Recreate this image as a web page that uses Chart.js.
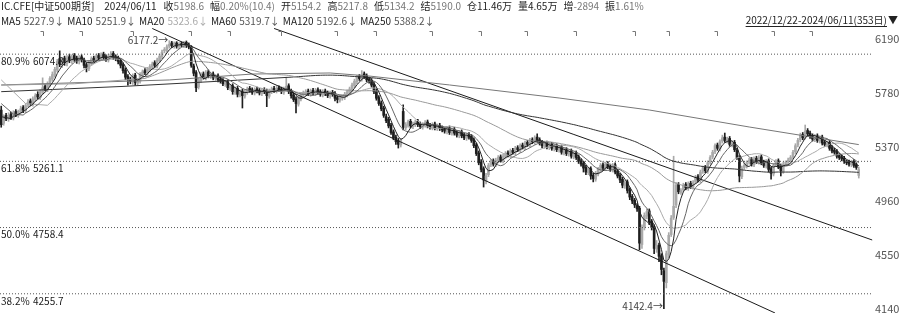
<!DOCTYPE html>
<html>
<head>
<meta charset="utf-8">
<script src="https://cdn.jsdelivr.net/npm/chart.js@4.4.1/dist/chart.umd.min.js"></script>
<style>
  html, body { margin: 0; padding: 0; background: #fff; }
  #wrap { width: 900px; height: 313px; }
</style>
</head>
<body>
<div id="wrap"><canvas id="kline" width="900" height="313"></canvas></div>
<script>
/* globals Chart:false */

// daily candles, 2022/12/22 - 2024/06/11 (353 days)
var opens = [
  5650,5550,5610,5580,5620,5590,5640,5610,5635,5670, 5645,5690,5720,5695,5730,5770,5745,5785,5830,5805,
  5845,5885,5915,5955,6040,5995,6045,6005,6055,6025, 6065,6045,6020,6055,6030,5995,5965,6005,6045,6025,
  6065,6040,6075,6055,6030,6055,6080,6055,6045,6025, 5995,5955,5905,5885,5865,5915,5855,5870,5915,5950,
  5930,5955,5975,6010,5985,6025,6055,6100,6105,6135, 6160,6135,6160,6130,6155,6140,6165,6145,6130,5985,
  5935,5825,5875,5925,5895,5940,5905,5925,5890,5910, 5885,5875,5845,5865,5815,5835,5785,5815,5765,5795,
  5755,5785,5815,5805,5780,5810,5800,5775,5805,5795, 5755,5790,5815,5795,5820,5810,5785,5805,5835,5795,
  5765,5735,5695,5735,5765,5775,5795,5770,5800,5775, 5805,5790,5765,5795,5780,5755,5785,5775,5745,5725,
  5740,5745,5765,5785,5805,5835,5865,5905,5885,5925, 5910,5885,5875,5845,5795,5745,5705,5665,5600,5580,
  5535,5485,5445,5420,5385,5640,5515,5535,5565,5525, 5540,5565,5545,5520,5535,5560,5535,5515,5545,5510,
  5535,5515,5505,5485,5515,5475,5505,5480,5455,5485, 5460,5435,5465,5450,5425,5385,5325,5260,5205,5110,
  5160,5235,5265,5235,5265,5295,5265,5295,5325,5305, 5345,5325,5365,5345,5385,5365,5405,5385,5425,5405,
  5445,5425,5405,5375,5400,5365,5390,5355,5380,5345, 5370,5325,5350,5315,5340,5295,5325,5295,5265,5245,
  5215,5175,5205,5155,5125,5165,5195,5235,5205,5245, 5225,5195,5235,5185,5155,5125,5075,5105,5045,4995,
  4965,4925,4905,4630,4765,4845,4885,4805,4765,4595, 4625,4545,4430,4340,4555,4705,4835,4930,5085,5025,
  5045,5085,5055,5095,5065,5105,5145,5115,5185,5215, 5185,5255,5295,5335,5385,5355,5415,5445,5415,5435,
  5385,5405,5345,5290,5145,5215,5225,5255,5275,5235, 5285,5255,5295,5255,5225,5265,5205,5165,5235,5265,
  5225,5185,5245,5255,5275,5295,5335,5385,5425,5465, 5445,5495,5475,5455,5425,5455,5415,5445,5405,5385,
  5405,5365,5345,5335,5305,5295,5285,5255,5255,5235, 5260,5235,5154.2
];
var highs = [
  5680,5615,5625,5630,5635,5645,5655,5650,5680,5685, 5700,5730,5735,5750,5775,5790,5805,5895,5845,5865,
  5905,5940,5975,6035,6100,6050,6060,6065,6075,6070, 6080,6060,6065,6070,6045,6010,6025,6055,6060,6075,
  6080,6085,6090,6070,6075,6095,6095,6070,6060,6040, 6010,5970,5920,5900,5925,5930,5890,5935,5955,5965,
  5975,5995,6015,6025,6045,6075,6105,6125,6145,6177.2, 6172,6168,6170,6163,6168,6172,6175,6160,6140,6000,
  5950,5895,5935,5940,5950,5955,5935,5940,5920,5925, 5900,5890,5875,5880,5845,5850,5825,5830,5805,5810,
  5805,5825,5830,5820,5820,5825,5815,5815,5820,5810, 5810,5825,5830,5830,5835,5825,5825,5900,5850,5810,
  5780,5750,5755,5785,5795,5805,5810,5810,5815,5815, 5820,5805,5805,5810,5795,5795,5800,5790,5760,5765,
  5765,5785,5805,5825,5855,5885,5915,5920,5950,5940, 5925,5900,5890,5860,5810,5760,5720,5680,5620,5595,
  5550,5500,5460,5435,5435,5690,5555,5575,5580,5560, 5575,5580,5560,5555,5570,5575,5550,5555,5560,5545,
  5550,5530,5520,5525,5530,5515,5520,5495,5495,5500, 5475,5475,5480,5465,5440,5400,5340,5275,5220,5170,
  5245,5275,5280,5285,5305,5310,5315,5335,5340,5355, 5360,5375,5380,5395,5400,5415,5420,5435,5440,5455,
  5470,5440,5420,5410,5415,5400,5405,5390,5395,5380, 5385,5360,5365,5350,5355,5335,5340,5310,5280,5260,
  5230,5215,5220,5170,5185,5215,5245,5250,5255,5260, 5240,5245,5250,5200,5170,5140,5115,5120,5060,5010,
  4980,4940,4920,4780,4870,4900,4900,4820,4780,4660, 4640,4560,4450,4580,4720,4850,5300,5100,5100,5055,
  5095,5100,5105,5110,5115,5155,5160,5195,5225,5230, 5265,5305,5345,5395,5400,5425,5460,5476,5445,5450,
  5415,5420,5360,5305,5225,5245,5265,5285,5290,5295, 5300,5305,5310,5270,5275,5280,5220,5245,5275,5280,
  5240,5255,5265,5285,5305,5345,5395,5435,5475,5480, 5537,5510,5490,5470,5465,5470,5455,5460,5420,5415,
  5420,5380,5360,5350,5320,5310,5300,5270,5270,5270, 5275,5250,5217.8
];
var lows = [
  5520,5535,5570,5565,5580,5575,5600,5595,5625,5630, 5630,5675,5685,5680,5715,5735,5730,5770,5795,5790,
  5830,5870,5900,5940,5980,5975,5990,5985,6010,6005, 6020,6005,6000,6015,5970,5940,5950,5990,6015,6010,
  6030,6025,6035,6020,6015,6040,6035,6025,6000,5970, 5930,5880,5840,5850,5845,5840,5840,5855,5900,5920,
  5915,5940,5960,5975,5970,6010,6040,6085,6090,6120, 6125,6120,6120,6115,6130,6125,6125,6115,5975,5910,
  5790,5810,5860,5885,5880,5895,5890,5880,5875,5865, 5855,5835,5830,5805,5800,5770,5770,5750,5750,5666,
  5740,5770,5785,5770,5765,5780,5765,5760,5775,5676, 5740,5775,5785,5780,5790,5775,5770,5790,5775,5740,
  5715,5628,5680,5720,5750,5760,5760,5755,5765,5760, 5770,5755,5750,5760,5745,5740,5755,5720,5705,5710,
  5725,5730,5750,5770,5790,5820,5850,5875,5870,5890, 5865,5855,5825,5775,5725,5685,5645,5595,5555,5515,
  5465,5425,5390,5362,5370,5500,5500,5520,5515,5510, 5525,5525,5510,5505,5520,5515,5505,5500,5500,5495,
  5495,5485,5475,5470,5465,5460,5460,5445,5440,5440, 5425,5420,5430,5405,5365,5305,5235,5180,5066,5090,
  5145,5220,5225,5220,5250,5255,5250,5280,5295,5290, 5315,5310,5335,5330,5355,5350,5375,5370,5395,5390,
  5405,5385,5365,5360,5355,5350,5345,5340,5335,5330, 5315,5310,5305,5300,5285,5280,5275,5245,5225,5180,
  5160,5160,5125,5105,5110,5150,5180,5195,5190,5205, 5185,5180,5165,5135,5100,5060,5055,5020,4970,4940,
  4910,4880,4590,4600,4740,4825,4780,4740,4560,4570, 4500,4400,4142.4,4300,4530,4690,4820,4910,5015,5010,
  5030,5045,5040,5055,5050,5090,5105,5100,5170,5175, 5170,5240,5280,5320,5345,5340,5400,5405,5400,5375,
  5370,5335,5275,5105,5130,5200,5210,5240,5225,5220, 5245,5240,5235,5215,5210,5180,5125,5150,5220,5205,
  5150,5170,5230,5240,5260,5280,5320,5370,5410,5425, 5430,5455,5435,5415,5410,5405,5400,5385,5375,5370,
  5345,5325,5315,5285,5275,5265,5245,5235,5225,5220, 5215,5200,5134.2
];
var closes = [
  5540,5600,5585,5610,5595,5630,5615,5640,5660,5650, 5685,5710,5700,5735,5760,5750,5790,5820,5810,5850,
  5890,5920,5960,6020,6000,6035,6010,6045,6030,6055, 6040,6025,6050,6035,5990,5970,6010,6040,6030,6060,
  6045,6070,6050,6035,6060,6075,6050,6040,6020,5990, 5950,5900,5880,5870,5910,5860,5875,5920,5940,5935,
  5960,5980,6000,5990,6030,6060,6090,6110,6130,6150, 6140,6155,6135,6150,6145,6160,6140,6130,5990,5930,
  5820,5880,5920,5900,5935,5910,5920,5895,5905,5880, 5870,5850,5860,5820,5830,5790,5810,5770,5790,5760,
  5790,5810,5800,5785,5805,5795,5780,5800,5790,5760, 5795,5810,5800,5815,5805,5790,5810,5830,5790,5760,
  5730,5700,5740,5770,5780,5790,5775,5795,5780,5800, 5785,5770,5790,5775,5760,5780,5770,5740,5730,5750,
  5750,5770,5790,5810,5840,5870,5900,5890,5920,5905, 5880,5870,5840,5790,5740,5700,5660,5610,5570,5530,
  5480,5440,5410,5390,5420,5520,5540,5560,5530,5545, 5560,5540,5525,5540,5555,5530,5520,5540,5515,5530,
  5510,5500,5490,5510,5480,5500,5475,5460,5480,5455, 5440,5460,5445,5420,5380,5320,5250,5200,5120,5150,
  5230,5260,5240,5270,5290,5270,5300,5320,5310,5340, 5330,5360,5350,5380,5370,5400,5390,5420,5410,5440,
  5420,5400,5380,5395,5370,5385,5360,5375,5350,5365, 5330,5345,5320,5335,5300,5320,5290,5260,5240,5210,
  5180,5200,5150,5130,5170,5200,5230,5210,5240,5220, 5200,5230,5180,5150,5120,5080,5100,5040,4990,4960,
  4930,4900,4640,4760,4850,4880,4800,4760,4600,4620, 4540,4440,4350,4560,4700,4830,4920,5080,5030,5040,
  5080,5060,5090,5070,5100,5140,5120,5180,5210,5190, 5250,5290,5330,5380,5360,5410,5440,5420,5430,5390,
  5400,5350,5290,5150,5210,5230,5250,5270,5240,5280, 5260,5290,5250,5230,5260,5200,5170,5230,5260,5220,
  5190,5240,5250,5270,5290,5330,5380,5420,5460,5440, 5490,5470,5450,5430,5450,5420,5440,5400,5390,5400,
  5360,5340,5330,5300,5290,5280,5260,5250,5240,5255, 5230,5215,5198.6
];

// moving averages: values before a full window come from the picture
var maNames = ['MA5', 'MA10', 'MA20', 'MA60', 'MA120', 'MA250'];
var maLast = ['5227.9', '5251.9', '5323.6', '5319.7', '5192.6', '5388.2'];
var ma5Lead = [[0, 5600]];
var ma10Lead = [[0, 5700], [5, 5620]];
var ma20Lead = [[0, 5880], [10, 5700]];
var ma60Lead = [[0, 5840], [30, 5850]];
var ma120Lead = [[0, 5790], [50, 5830], [90, 5870]];
var ma250Read = [[0, 5841], [69, 5879], [103, 5924], [135, 5932], [151, 5909], [184, 5841],
  [229, 5742], [266, 5651], [307, 5522], [352, 5388.2]];

// drawn channel lines [day index, price]
var trendA = [[62, 6270], [317.6, 4110]];
var trendB = [[112, 6270], [357.5, 4664]];

// golden section levels
var fibPcts = ['80.9%', '61.8%', '50.0%', '38.2%'];
var fibValues = [6074.8, 5261.1, 4758.4, 4255.7];
var fibSpan = [-0.5, 357.5];

var axisTicks = [4140, 4550, 4960, 5370, 5780, 6190];
var rollIdx = [17, 33, 54, 78, 94, 115, 138, 154, 177, 197, 216, 236, 260, 274, 294, 317, 333];

var headTitle = 'IC.CFE[中证500期货]';
var headDate = '2024/06/11';
var headLabels = ['收', '幅', '开', '高', '低', '结', '仓', '量', '增', '振'];
var headValues = ['5198.6', '0.20%(10.4)', '5154.2', '5217.8', '5134.2', '5190.0', '11.46万', '4.65万', '-2894', '1.61%'];
var rangeText = '2022/12/22-2024/06/11(353日)';

(function () {
  'use strict'

  var font = '"Noto Sans CJK SC", "Noto Sans", sans-serif'
  var upColor = '#a9a9a9'
  var downColor = '#1e1e1e'
  var maColors = ['#222222', '#666666', '#aaaaaa', '#999999', '#333333', '#777777']

  function movingAvg (n, lead) {
    var pts = lead.map(function (p) { return { x: p[0], y: p[1] } })
    for (var i = n - 1; i < closes.length; i++) {
      var s = 0
      for (var k = i - n + 1; k <= i; k++) s += closes[k]
      pts.push({ x: i, y: s / n })
    }
    return pts
  }

  var bodies = closes.map(function (c, i) { return { x: i, y: [opens[i], c] } })
  var wicks = closes.map(function (c, i) { return { x: i, y: [lows[i], highs[i]] } })
  var candleColors = closes.map(function (c, i) { return c >= opens[i] ? upColor : downColor })

  var maSeries = [
    movingAvg(5, ma5Lead), movingAvg(10, ma10Lead), movingAvg(20, ma20Lead),
    movingAvg(60, ma60Lead), movingAvg(120, ma120Lead),
    ma250Read.map(function (p) { return { x: p[0], y: p[1] } })
  ]

  var datasets = []
  maSeries.forEach(function (pts, k) {
    datasets.push({
      type: 'line', label: maNames[k], data: pts, borderColor: maColors[k],
      borderWidth: 1, pointRadius: 0, tension: 0, order: 1
    })
  })
  ;[trendA, trendB].forEach(function (t) {
    datasets.push({
      type: 'line', data: t.map(function (p) { return { x: p[0], y: p[1] } }),
      borderColor: '#1a1a1a', borderWidth: 1, pointRadius: 0, clip: false, order: 2
    })
  })
  fibValues.forEach(function (v) {
    datasets.push({
      type: 'line', data: [{ x: fibSpan[0], y: v }, { x: fibSpan[1], y: v }],
      borderColor: '#555', borderWidth: 1, borderDash: [1, 2], pointRadius: 0, clip: false, order: 3
    })
  })
  datasets.push({
    type: 'bar', data: bodies, backgroundColor: candleColors, barThickness: 2,
    minBarLength: 1, grouped: false, order: 4
  })
  datasets.push({
    type: 'bar', data: wicks, backgroundColor: candleColors, barThickness: 1,
    grouped: false, order: 5
  })

  var overlay = {
    id: 'overlay',
    afterDatasetsDraw: function (chart) {
      var ctx = chart.ctx
      var xs = chart.scales.x
      var ys = chart.scales.y
      ctx.save()
      // level labels
      ctx.font = '10px ' + font
      ctx.fillStyle = '#1a1a1a'
      ctx.textBaseline = 'top'
      fibValues.forEach(function (v, k) {
        var py = ys.getPixelForValue(v)
        ctx.fillText(fibPcts[k], 1, py + 2)
        ctx.fillText(v.toFixed(1), 33, py + 2)
      })
      // extreme prices
      var hi = 0
      var lo = 0
      highs.forEach(function (h, i) { if (h > highs[hi]) hi = i })
      lows.forEach(function (l, i) { if (l < lows[lo]) lo = i })
      ctx.fillStyle = '#444'
      ctx.textAlign = 'right'
      ctx.textBaseline = 'middle'
      ctx.fillText(highs[hi].toFixed(1) + '→', xs.getPixelForValue(hi) - 1, ys.getPixelForValue(highs[hi]))
      ctx.fillText(lows[lo].toFixed(1) + '→', xs.getPixelForValue(lo) - 1, ys.getPixelForValue(lows[lo]) - 2)
      // contract roll marks
      ctx.strokeStyle = '#777'
      ctx.lineWidth = 1
      rollIdx.forEach(function (i) {
        var px = Math.round(xs.getPixelForValue(i)) + 0.5
        ctx.beginPath()
        ctx.moveTo(px - 3, 31.5)
        ctx.lineTo(px, 31.5)
        ctx.lineTo(px, 36)
        ctx.stroke()
      })
      ctx.restore()
    },
    afterDraw: function (chart) {
      var ctx = chart.ctx
      ctx.save()
      ctx.font = '10px ' + font
      ctx.textBaseline = 'middle'
      ctx.textAlign = 'left'
      // row 1
      var x = 1
      ctx.fillStyle = '#222'
      ctx.fillText(headTitle, x, 6.5)
      x += ctx.measureText(headTitle).width + 10
      ctx.fillText(headDate, x, 6.5)
      x += ctx.measureText(headDate).width + 7
      headLabels.forEach(function (lab, k) {
        ctx.fillStyle = '#222'
        ctx.fillText(lab, x, 6.5)
        x += ctx.measureText(lab).width
        ctx.fillStyle = (k === 6 || k === 7) ? '#222' : '#777'
        ctx.fillText(headValues[k], x, 6.5)
        x += ctx.measureText(headValues[k]).width + 6
      })
      // row 2
      x = 1
      maNames.forEach(function (n, k) {
        ctx.fillStyle = '#222'
        ctx.fillText(n, x, 21)
        x += ctx.measureText(n).width + 3
        ctx.fillStyle = k === 2 ? '#aaa' : '#555'
        var t = maLast[k] + '↓'
        ctx.fillText(t, x, 21)
        x += ctx.measureText(t).width + 3
      })
      // date range
      ctx.fillStyle = '#222'
      ctx.textAlign = 'right'
      ctx.fillText('▼', 898, 20)
      var rx = 898 - ctx.measureText('▼').width - 1
      ctx.fillText(rangeText, rx, 20)
      var rw = ctx.measureText(rangeText).width
      ctx.strokeStyle = '#222'
      ctx.lineWidth = 1
      ctx.beginPath()
      ctx.moveTo(rx - rw, 26.5)
      ctx.lineTo(rx, 26.5)
      ctx.stroke()
      ctx.restore()
    }
  }

  var ctx = document.getElementById('kline')
  // eslint-disable-next-line no-unused-vars
  var chart = new Chart(ctx, {
    type: 'bar',
    data: { datasets: datasets },
    plugins: [overlay],
    options: {
      responsive: false,
      animation: false,
      events: [],
      layout: { padding: { top: 28, left: 0, right: 0, bottom: 0 } },
      plugins: { legend: { display: false }, tooltip: { enabled: false } },
      scales: {
        x: {
          type: 'linear', min: -0.5, max: closes.length - 0.5, offset: false,
          display: false, grid: { display: false }
        },
        y: {
          position: 'right', min: 4109.7, max: 6273.5, beginAtZero: false,
          grid: { display: false, drawTicks: false }, border: { display: false },
          afterBuildTicks: function (scale) { scale.ticks = axisTicks.map(function (v) { return { value: v } }) },
          afterFit: function (scale) { scale.width = 40; scale.paddingTop = 0; scale.paddingBottom = 0 },
          ticks: {
            padding: 15, color: '#555', font: { family: font, size: 11 },
            callback: function (v) { return String(v) }
          }
        }
      }
    }
  })
})()
</script>
</body>
</html>
